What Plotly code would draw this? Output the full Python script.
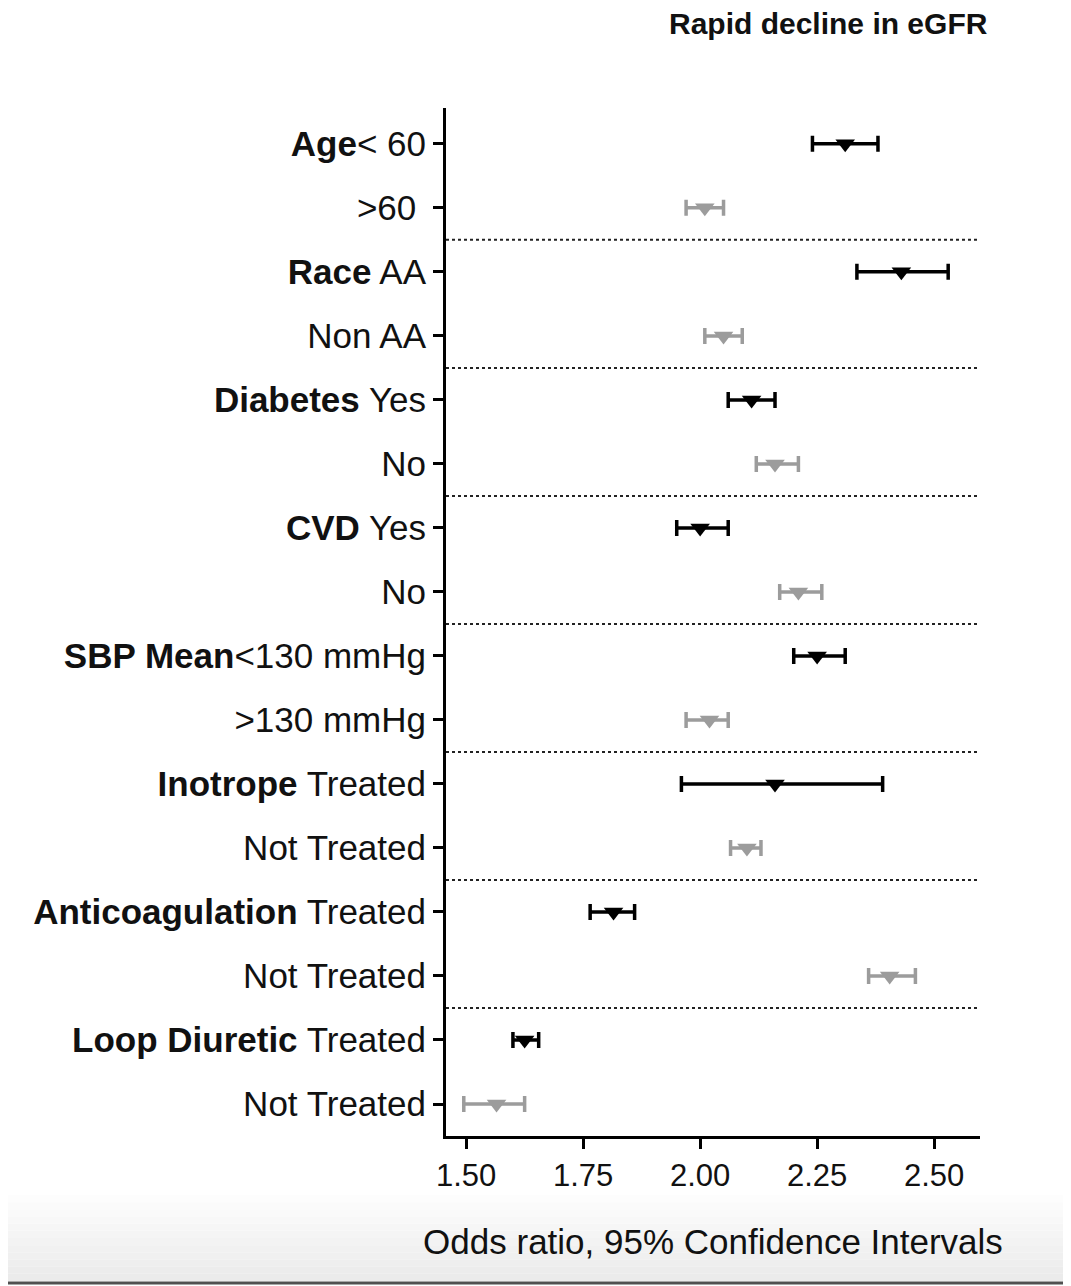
import plotly.graph_objects as go

# ---- data ----
groups = ["Age", "Race", "Diabetes", "CVD", "SBP Mean", "Inotrope", "Anticoagulation", "Loop Diuretic"]
sub_first = ["&lt; 60", " AA", " Yes", " Yes", "&lt;130 mmHg", " Treated", " Treated", " Treated"]
sub_second = ["&gt;60 ", "Non AA", "No", "No", "&gt;130 mmHg", "Not Treated", "Not Treated", "Not Treated"]

or_first = [2.31, 2.43, 2.11, 2.00, 2.25, 2.16, 1.815, 1.625]
lo_first = [2.24, 2.335, 2.06, 1.95, 2.20, 1.96, 1.765, 1.60]
hi_first = [2.38, 2.53, 2.16, 2.06, 2.31, 2.39, 1.86, 1.655]

or_second = [2.01, 2.05, 2.16, 2.21, 2.02, 2.10, 2.405, 1.565]
lo_second = [1.97, 2.01, 2.12, 2.17, 1.97, 2.065, 2.36, 1.495]
hi_second = [2.05, 2.09, 2.21, 2.26, 2.06, 2.13, 2.46, 1.625]

x_ticks = [1.50, 1.75, 2.00, 2.25, 2.50]
x_ticktext = ["1.50", "1.75", "2.00", "2.25", "2.50"]

title_text = "Rapid decline in eGFR"
x_title = "Odds ratio, 95% Confidence Intervals"

# ---- build ----
n = len(groups)
y_first = [2 * i + 1 for i in range(n)]
y_second = [2 * i + 2 for i in range(n)]

tickvals, ticktext = [], []
for i in range(n):
    tickvals += [y_first[i], y_second[i]]
    ticktext += [f"<b>{groups[i]}</b>{sub_first[i]}", sub_second[i]]

BLACK = "#000000"
GRAY = "#9c9c9c"

fig = go.Figure()
fig.add_trace(go.Scatter(
    x=or_first, y=y_first, mode="markers",
    marker=dict(symbol="triangle-down", size=17, color=BLACK),
    error_x=dict(type="data", symmetric=False,
                 array=[h - o for h, o in zip(hi_first, or_first)],
                 arrayminus=[o - l for o, l in zip(or_first, lo_first)],
                 color=BLACK, thickness=3.5, width=8),
    showlegend=False, hoverinfo="x+y"))
fig.add_trace(go.Scatter(
    x=or_second, y=y_second, mode="markers",
    marker=dict(symbol="triangle-down", size=17, color=GRAY),
    error_x=dict(type="data", symmetric=False,
                 array=[h - o for h, o in zip(hi_second, or_second)],
                 arrayminus=[o - l for o, l in zip(or_second, lo_second)],
                 color=GRAY, thickness=3.5, width=8),
    showlegend=False, hoverinfo="x+y"))

# dotted separators between groups
for i in range(n - 1):
    fig.add_shape(type="line", xref="paper", x0=0, x1=1, yref="y",
                  y0=y_second[i] + 0.5, y1=y_second[i] + 0.5,
                  line=dict(color="#222222", width=2, dash="dot"))

# screenshot-like gray band at the bottom
H_PLOT = 1028.0
def py(pix):
    return (1136.0 - pix) / H_PLOT
band_top = 1195
band_bot = 1281
steps = 12
for k in range(steps):
    a = band_top + (band_bot - band_top) * k / steps
    b = band_top + (band_bot - band_top) * (k + 1) / steps
    g = int(255 - 20 * (k + 1) / steps)
    fig.add_shape(type="rect", xref="paper", yref="paper",
                  x0=-0.84, x1=1.18, y0=py(b), y1=py(a),
                  fillcolor=f"rgb({g},{g},{g})", line=dict(width=0), layer="below")
fig.add_shape(type="line", xref="paper", yref="paper", x0=-0.84, x1=1.18,
              y0=py(1283), y1=py(1283), line=dict(color="#505050", width=3), layer="below")

fig.add_annotation(text=f"<b>{title_text}</b>", xref="paper", yref="paper",
                   x=(990 - 446) / 534.0, y=py(23), xanchor="right", yanchor="middle",
                   showarrow=False, font=dict(size=30, color="#111111"))

FONT = "Arial, Liberation Sans, Helvetica, sans-serif"
fig.update_layout(
    width=1063, height=1278,
    margin=dict(l=438, r=91, t=100, b=150),
    paper_bgcolor="white", plot_bgcolor="white",
    font=dict(family=FONT, color="#111111"),
    xaxis=dict(range=[1.457, 2.598], tickvals=x_ticks, ticktext=x_ticktext,
               showgrid=False, zeroline=False, showline=True, linecolor="black", linewidth=3,
               ticks="outside", ticklen=10, tickwidth=3, tickcolor="black",
               tickfont=dict(size=31, family=FONT),
               title=dict(text=x_title, font=dict(size=35, family=FONT), standoff=38)),
    yaxis=dict(range=[16.5, 0.44], tickvals=tickvals, ticktext=ticktext,
               showgrid=False, zeroline=False, showline=True, linecolor="black", linewidth=3,
               ticks="outside", ticklen=10, tickwidth=3, tickcolor="black",
               tickfont=dict(size=35, family=FONT)),
)

fig.write_html("out.html")
